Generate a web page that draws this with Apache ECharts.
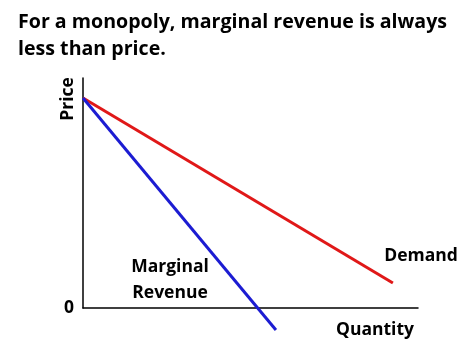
<!DOCTYPE html>
<html><head><meta charset="utf-8">
<script src="https://cdn.jsdelivr.net/npm/echarts@6/dist/echarts.min.js"></script>
<style>html,body{margin:0;padding:0;background:#fff}#c{width:474px;height:355px}</style>
</head><body><div id="c"></div>
<script>
const titleLines = ['For a monopoly, marginal revenue is always', 'less than price.'];
const demandPoints = [[0, 9.13], [9.25, 1.09]];
const mrPoints = [[0, 9.13], [5.76, -0.96]];
const yTickLabels = ['0'];
const FONT = 'Open Sans';
const LBL = 17.5;
const chart = echarts.init(document.getElementById('c'));
chart.setOption({
  backgroundColor: '#fff',
  animation: false,
  title: {
    text: titleLines.join('\n'),
    left: 13, top: 4,
    textStyle: { fontFamily: FONT, fontWeight: 'bold', fontSize: 19.6, lineHeight: 27, color: '#000' }
  },
  grid: { left: 83, right: 56, top: 78, bottom: 47 },
  xAxis: {
    type: 'value', min: 0, max: 10, interval: 10,
    axisLine: { show: true, onZero: false, lineStyle: { color: '#000', width: 1.5 } },
    axisTick: { show: false }, axisLabel: { show: false }, splitLine: { show: false }
  },
  yAxis: {
    type: 'value', min: 0, max: 10, interval: 10,
    axisLine: { show: true, onZero: false, lineStyle: { color: '#000', width: 1.5 } },
    axisTick: { show: false }, splitLine: { show: false },
    axisLabel: {
      margin: 9, fontFamily: FONT, fontWeight: 'bold', fontSize: LBL, color: '#000',
      formatter: v => (v === 0 ? yTickLabels[0] : '')
    }
  },
  series: [
    { type: 'line', data: demandPoints, symbol: 'none', clip: false,
      lineStyle: { color: '#e01818', width: 3 } },
    { type: 'line', data: mrPoints, symbol: 'none', clip: false,
      lineStyle: { color: '#1c1cd2', width: 3 } }
  ],
  graphic: [
    { type: 'text', x: 68, y: 99, rotation: Math.PI / 2,
      style: { text: 'Price', fontFamily: FONT, fontWeight: 'bold', fontSize: LBL, fill: '#000', align: 'center', verticalAlign: 'middle' } },
    { type: 'text', x: 375, y: 330,
      style: { text: 'Quantity', fontFamily: FONT, fontWeight: 'bold', fontSize: LBL, fill: '#000', align: 'center', verticalAlign: 'middle' } },
    { type: 'text', x: 421, y: 256,
      style: { text: 'Demand', fontFamily: FONT, fontWeight: 'bold', fontSize: LBL, fill: '#000', align: 'center', verticalAlign: 'middle' } },
    { type: 'text', x: 170, y: 280,
      style: { text: 'Marginal\nRevenue', fontFamily: FONT, fontWeight: 'bold', fontSize: LBL, lineHeight: 26, fill: '#000', align: 'center', verticalAlign: 'middle' } }
  ]
});
</script></body></html>
